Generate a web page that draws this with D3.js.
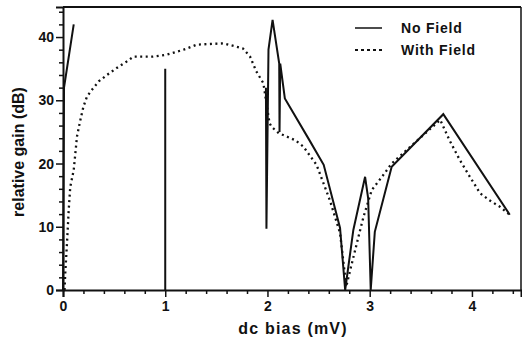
<!DOCTYPE html>
<html lang="en">
<head>
<meta charset="UTF-8">
<title>Relative gain vs dc bias</title>
<script src="https://d3js.org/d3.v7.min.js"></script>
<style>
  body { margin: 0; background: #fff; }
  text { font-family: "Liberation Sans", Arial, sans-serif; fill: #111; font-weight: bold; }
</style>
</head>
<body>
<div id="chart"></div>
<script>
// No Field (solid); null splits the curve into separate pieces
const noFieldX = [0, 0.01, 0.105, null, 1.0, 1.0, null,
  1.985, 1.99, 2.01, 2.05, 2.115, 2.118, 2.125, 2.17, 2.41, 2.55, 2.71, 2.76,
  2.84, 2.955, 2.985, 3.01, 3.05, 3.215, 3.72, 4.37];
const noFieldY = [0, 32, 42, null, 0, 35, null,
  32, 9.7, 38, 42.7, 35.8, 25, 35.8, 30.3, 23.7, 19.8, 9.8, 0,
  9.5, 17.9, 14.5, 0, 9.2, 19.5, 27.8, 11.9];

// With Field (dotted)
const withFieldX = [0.015, 0.022, 0.039, 0.056, 0.071, 0.105, 0.137, 0.17, 0.2, 0.235,
  0.28, 0.35, 0.43, 0.525, 0.62, 0.69, 0.88, 1.01, 1.18, 1.31, 1.57, 1.76, 1.83,
  1.89, 1.96, 1.98, 2.02, 2.04, 2.11, 2.27, 2.35, 2.48, 2.61, 2.71, 2.76, 2.77,
  2.81, 2.89, 2.94, 3.02, 3.12, 3.215, 3.69, 3.78, 3.88, 3.98, 4.08, 4.17, 4.27, 4.37];
const withFieldY = [0, 2.6, 7.4, 12.7, 16.3, 19, 24.3, 26.9, 29, 30.6,
  31.6, 33, 34, 35.1, 36.1, 36.9, 36.9, 37.2, 38, 38.8, 39, 38.2, 36.9,
  34.6, 32.7, 30.6, 26.4, 25.8, 24.8, 23.7, 22.7, 19.8, 14.2, 9, 2.1, 0.5,
  3.2, 8.4, 11.6, 15.8, 17.9, 20, 26.9, 23.7, 20.6, 17.9, 15.3, 14.2, 13.2, 11.9];

const xTicks = [0, 1, 2, 3, 4];
const yTicks = [0, 10, 20, 30, 40];
const legendLabels = ["No Field", "With Field"];

const w = 522, h = 343;
const x = d3.scaleLinear().domain([0, 4.48]).range([63, 521]);
const y = d3.scaleLinear().domain([0, 44.75]).range([290, 7]);

const svg = d3.select("#chart").append("svg")
  .attr("width", w).attr("height", h);

const toPts = (xs, ys) => xs.map((v, i) => [v, ys[i]]);
const line = d3.line()
  .defined(d => d[0] !== null && d[1] !== null)
  .x(d => x(d[0])).y(d => y(d[1]));

// frame: top and right edges
svg.append("line").attr("x1", 63).attr("x2", 521).attr("y1", 7).attr("y2", 7)
  .attr("stroke", "#111").attr("stroke-width", 2);
svg.append("line").attr("x1", 521).attr("x2", 521).attr("y1", 7).attr("y2", 290)
  .attr("stroke", "#111").attr("stroke-width", 1.5);

// minor ticks
const xMinor = d3.range(0, 4.41, 0.2).filter(v => Math.abs(v - Math.round(v)) > 0.01);
const yMinor = d3.range(0, 44.1, 2).filter(v => v % 10 !== 0);

svg.append("g").attr("transform", "translate(0,290)")
  .call(d3.axisBottom(x).tickValues(xTicks).tickFormat(d3.format("d")).tickSize(7).tickPadding(4));
svg.append("g").attr("transform", "translate(0,290)")
  .call(d3.axisBottom(x).tickValues(xMinor).tickFormat("").tickSize(4))
  .select(".domain").remove();

svg.append("g").attr("transform", "translate(63,0)")
  .call(d3.axisLeft(y).tickValues(yTicks).tickFormat(d3.format("d")).tickSize(7).tickPadding(2));
svg.append("g").attr("transform", "translate(63,0)")
  .call(d3.axisLeft(y).tickValues(yMinor).tickFormat("").tickSize(4))
  .select(".domain").remove();

svg.selectAll(".domain").attr("stroke", "#111").attr("stroke-width", 2);
svg.selectAll(".tick line").attr("stroke", "#111").attr("stroke-width", 1.5);
svg.selectAll(".tick text").attr("font-size", 14)
  .attr("font-family", "Liberation Sans, Arial, sans-serif")
  .attr("font-weight", "bold").attr("fill", "#111");

// series
svg.append("path").datum(toPts(withFieldX, withFieldY))
  .attr("d", line).attr("fill", "none").attr("stroke", "#111")
  .attr("stroke-width", 2.3).attr("stroke-dasharray", "2,3.5");
svg.append("path").datum(toPts(noFieldX, noFieldY))
  .attr("d", line).attr("fill", "none").attr("stroke", "#111")
  .attr("stroke-width", 2).attr("stroke-linejoin", "miter");

// axis titles
svg.append("text").attr("x", 293).attr("y", 334).attr("text-anchor", "middle")
  .attr("font-size", 16).attr("letter-spacing", 1.2).text("dc bias (mV)");
svg.append("text").attr("transform", "translate(24,152) rotate(-90)")
  .attr("text-anchor", "middle").attr("font-size", 16).text("relative gain (dB)");

// legend
const legend = svg.append("g");
legendLabels.forEach((lab, i) => {
  const ly = 28 + i * 22;
  legend.append("line").attr("x1", 355).attr("x2", 382).attr("y1", ly).attr("y2", ly)
    .attr("stroke", "#111").attr("stroke-width", i === 0 ? 1.5 : 2)
    .attr("stroke-dasharray", i === 0 ? null : "3,3");
  legend.append("text").attr("x", 401).attr("y", ly + 5)
    .attr("font-size", 14).attr("letter-spacing", 0.8).text(lab);
});
</script>
</body>
</html>
